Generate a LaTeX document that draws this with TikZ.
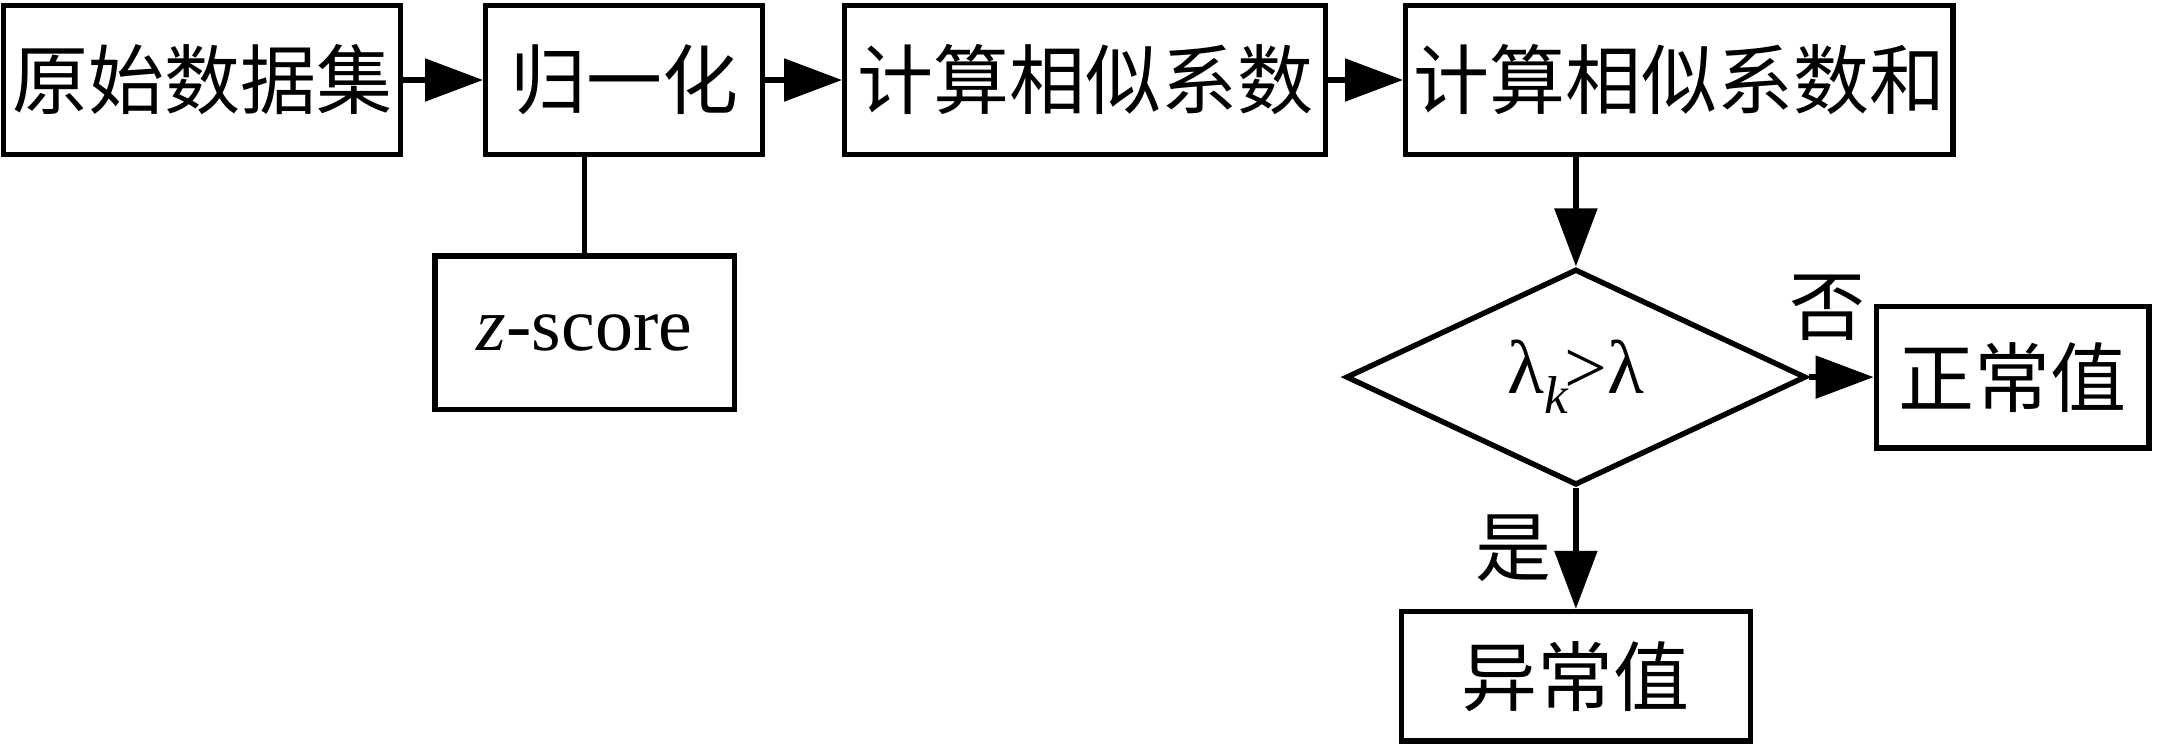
\documentclass[tikz,border=0pt]{standalone}
\usepackage{fontspec}
\setmainfont{Liberation Serif}
\newfontfamily\cjk{Noto Sans CJK SC}
\usepackage{tikz}
\usetikzlibrary{positioning}
\usetikzlibrary{shapes.geometric,arrows.meta}
\tikzstyle{block} = [rectangle, draw, line width=2.7pt, inner sep=0pt,
    minimum width=138.3pt, minimum height=74.7pt, font=\cjk\fontsize{38}{40}\selectfont]
\tikzstyle{decision} = [diamond, draw, line width=2.7pt, inner sep=0pt,
    minimum width=230pt, minimum height=108pt, font=\fontsize{38}{40}\selectfont]
\tikzstyle{branch} = [inner sep=0pt, font=\cjk\fontsize{38}{40}\selectfont]
\tikzstyle{arrow} = [line width=2.7pt, -{Triangle[length=29pt,width=21pt]}]
\tikzstyle{link} = [line width=2.7pt]

\begin{document}
\begin{tikzpicture}[x=0.5pt, y=-0.5pt]
\useasboundingbox (0,0) rectangle (2157,751);

\node (orig) [block, minimum width=198.3pt] at (202,80) {原始数据集};
\node (norm) [block, right=40pt of orig] {归一化};
\node (sim) [block, minimum width=240.3pt, right=38.5pt of norm] {计算相似系数};
\node (simsum) [block, minimum width=273.7pt, right=37.5pt of sim] {计算相似系数和};
\node (zscore) [block, minimum width=149.7pt, minimum height=76.7pt, below=48pt of norm, xshift=-19.75pt, font=\fontsize{38}{40}\selectfont] {\textit{z}-score};
\node (judge) [decision, below=54.5pt of simsum, xshift=-51.75pt] {λ\textsubscript{\itshape k}\kern-2pt>λ};
\node (normal) [block, minimum width=136.3pt, minimum height=70.7pt, right=32.5pt of judge] {正常值};
\node (abnormal) [block, minimum width=174.3pt, minimum height=64.7pt, below=60.5pt of judge] {异常值};

\draw [arrow] (orig) -- (norm);
\draw [arrow] (norm) -- (sim);
\draw [arrow] (sim) -- (simsum);
\draw [link] (zscore.north |- norm.south) -- (zscore.north);
\draw [arrow] (judge.north |- simsum.south) -- (judge.north);
\draw [arrow] (judge) -- node[branch, above=17pt, xshift=-7pt] {否} (normal);
\draw [arrow] (judge) -- node[branch, left=11pt] {是} (abnormal);
\end{tikzpicture}
\end{document}
